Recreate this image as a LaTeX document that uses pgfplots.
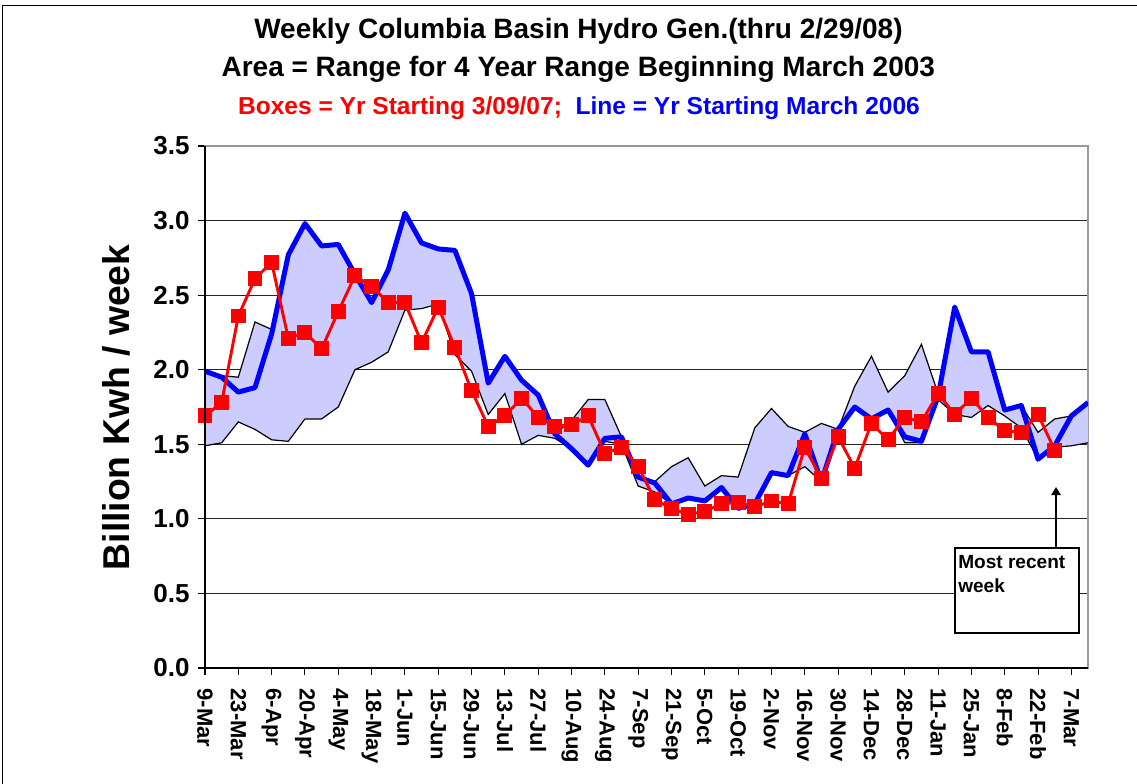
\documentclass[border=0pt]{standalone}
\usepackage{fontspec}
\setmainfont{Liberation Sans}
\usepackage{pgfplots}
\pgfplotsset{compat=1.18}
\usepackage{pgfplotstable}
\usepgfplotslibrary{fillbetween}
\usetikzlibrary{arrows.meta}
\definecolor{lav}{RGB}{204,204,255}
\definecolor{myred}{RGB}{255,0,0}
\definecolor{myblue}{RGB}{0,0,255}

\pgfplotstableread{
x red blue upper lower
0 1.69 1.99 2.00 1.49
1 1.78 1.95 1.96 1.51
2 2.36 1.85 1.95 1.65
3 2.61 1.88 2.32 1.60
4 2.72 2.24 2.27 1.53
5 2.21 2.77 2.77 1.52
6 2.25 2.98 2.98 1.67
7 2.14 2.83 2.83 1.67
8 2.39 2.84 2.84 1.75
9 2.63 2.64 2.64 2.00
10 2.56 2.45 2.45 2.05
11 2.45 2.67 2.67 2.12
12 2.45 3.05 3.05 2.40
13 2.18 2.85 2.85 2.41
14 2.42 2.81 2.81 2.44
15 2.15 2.80 2.80 2.10
16 1.86 2.51 2.51 1.99
17 1.62 1.91 1.91 1.70
18 1.69 2.09 2.09 1.84
19 1.81 1.93 1.93 1.50
20 1.68 1.83 1.83 1.56
21 1.62 1.57 1.57 1.54
22 1.63 1.47 1.66 1.47
23 1.69 1.36 1.80 1.36
24 1.44 1.54 1.80 1.52
25 1.48 1.55 1.55 1.50
26 1.35 1.28 1.28 1.22
27 1.13 1.24 1.25 1.18
28 1.07 1.10 1.35 1.10
29 1.03 1.14 1.41 1.14
30 1.05 1.12 1.22 1.12
31 1.10 1.21 1.29 1.21
32 1.11 1.07 1.28 1.07
33 1.08 1.10 1.61 1.10
34 1.12 1.31 1.74 1.31
35 1.10 1.29 1.62 1.29
36 1.48 1.57 1.58 1.35
37 1.27 1.25 1.64 1.25
38 1.55 1.60 1.60 1.58
39 1.34 1.75 1.89 1.75
40 1.64 1.67 2.09 1.67
41 1.53 1.73 1.85 1.73
42 1.68 1.55 1.96 1.51
43 1.65 1.52 2.17 1.51
44 1.84 1.82 1.84 1.80
45 1.70 2.42 2.42 1.70
46 1.81 2.12 2.12 1.68
47 1.68 2.12 2.12 1.76
48 1.59 1.73 1.73 1.69
49 1.58 1.76 1.76 1.61
50 1.70 1.40 1.58 1.40
51 1.46 1.49 1.67 1.48
52 nan 1.69 1.69 1.49
53 nan 1.78 1.78 1.51
}\hydro

\begin{document}
\begin{tikzpicture}
\begin{axis}[
  at={(0,0)}, anchor=south west,
  scale only axis, width=662.25pt, height=391.5pt,
  xmin=0, xmax=53, ymin=0, ymax=3.5,
  ytick={0,0.5,1,1.5,2,2.5,3,3.5},
  xtick={0,2,...,52},
  xticklabels={9-Mar,23-Mar,6-Apr,20-Apr,4-May,18-May,1-Jun,15-Jun,29-Jun,13-Jul,27-Jul,10-Aug,24-Aug,7-Sep,21-Sep,5-Oct,19-Oct,2-Nov,16-Nov,30-Nov,14-Dec,28-Dec,11-Jan,25-Jan,8-Feb,22-Feb,7-Mar},
  ymajorgrids, major grid style={black!85, line width=0.7pt},
  tick pos=left, tick align=outside, major tick length=5pt,
  tick style={black, line width=0.8pt},
  axis line style={draw=gray!80, line width=1.2pt},
  /pgf/number format/fixed, /pgf/number format/fixed zerofill,
  /pgf/number format/precision=1, /pgf/number format/assume math mode=true,
  yticklabel style={font=\bfseries\fontsize{19.5}{21}\selectfont},
  yticklabel shift=3pt,
  xticklabel style={rotate=-90, anchor=west, font=\bfseries\fontsize{16.5}{18}\selectfont},
  xticklabel shift=7pt,
]
\addplot[black, line width=0.9pt, name path=U] table[x=x,y=upper]{\hydro};
\addplot[black, line width=0.9pt, name path=L] table[x=x,y=lower]{\hydro};
\addplot[lav] fill between[of=U and L];
\addplot[myblue, line width=3.75pt, line join=round] table[x=x,y=blue]{\hydro};
\addplot[myred, line width=2.2pt, mark=square*, mark size=4.5pt, mark options={solid, fill=myred, draw=myred}] table[x=x,y=red]{\hydro};
\end{axis}
\draw[black, line width=1.2pt] (0,391.5pt) -- (0,0) -- (662.25pt,0);
% outer frame
\draw[black, line width=1.1pt] (-151.7pt,-90pt) -- (-151.7pt,496.7pt) -- (705pt,496.7pt);
% titles
\node[anchor=base, font=\bfseries\fontsize{21}{25}\selectfont] at (280.1pt,471.75pt) {Weekly Columbia Basin Hydro Gen.(thru 2/29/08)};
\node[anchor=base, font=\bfseries\fontsize{21}{25}\selectfont] at (280pt,443.25pt) {Area = Range for 4 Year Range Beginning March 2003};
\node[anchor=base, font=\bfseries\fontsize{18.4}{22}\selectfont] at (280.5pt,414.75pt) {\textcolor{myred}{Boxes = Yr Starting 3/09/07;}\ \ \textcolor{myblue}{Line = Yr Starting March 2006}};
% y label
\node[rotate=90, anchor=base, font=\bfseries\fontsize{28}{32}\selectfont] at (-56.25pt,195.4pt) {Billion Kwh / week};
% most recent week box
\draw[black, line width=0.8pt, fill=white] (562.5pt,26.25pt) rectangle (655.5pt,90pt);
\node[anchor=base west, inner sep=0pt, font=\bfseries\fontsize{14.3}{17}\selectfont] at (564.75pt,75pt) {Most recent};
\node[anchor=base west, inner sep=0pt, font=\bfseries\fontsize{14.3}{17}\selectfont] at (564.75pt,57pt) {week};
\draw[black, line width=2.2pt, -{Triangle[length=6pt, width=7pt]}] (638.25pt,90pt) -- (638.25pt,135.75pt);
\pgfresetboundingbox
\path[use as bounding box] (-153.75pt,-86.25pt) rectangle (699pt,501pt);
\end{tikzpicture}
\end{document}
